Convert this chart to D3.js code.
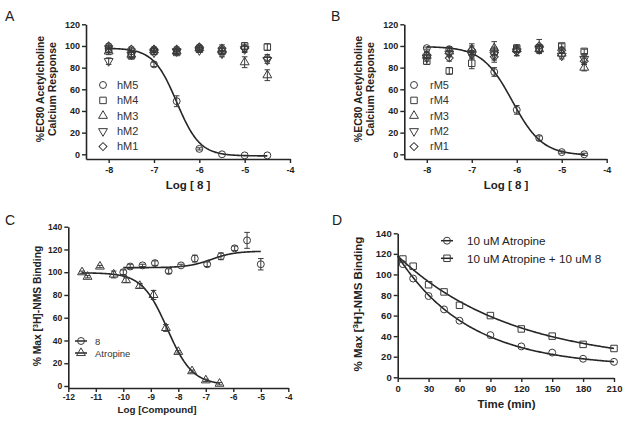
<!DOCTYPE html>
<html><head><meta charset="utf-8">
<script src="https://cdn.jsdelivr.net/npm/d3@7"></script>
<style>body{margin:0;background:#fff}svg{display:block}</style>
</head><body>
<svg id="chart" width="629" height="421"></svg>
<script>
// ---------- DATA ----------
// Panel A (human receptors)
const logA = [-8, -7.5, -7, -6.5, -6, -5.5, -5, -4.5];
const hM5 = [98, 95, 83, 49, 5, 0, -1, -1];
const hM5Err = [1, 1, 2, 5, 1, 0, 0, 0];
const hM4 = [97, 91, 95, 94, 97, 95, 100, 99];
const hM4Err = [3, 3, 3, 2, 2, 3, 3, 3];
const hM3 = [95, 92, 96, 95, 98, 96, 85, 73];
const hM3Err = [3, 3, 2, 2, 2, 3, 5, 5];
const hM2 = [86, 92, 94, 95, 96, 93, 97, 87];
const hM2Err = [3, 2, 2, 2, 2, 3, 3, 3];
const hM1 = [100, 97, 97, 97, 99, 98, 98, 89];
const hM1Err = [2, 2, 2, 2, 2, 3, 3, 3];
const hM5Fit = [98, -1.5, -6.5, 1.7];      // top, bottom, logIC50, hill
// Panel B (rat receptors)
const logB = [-8, -7.5, -7, -6.5, -6, -5.5, -5, -4.5];
const rM5 = [98, 97, 93, 76, 41, 15, 2, 0];
const rM5Err = [1, 2, 2, 4, 4, 2, 1, 1];
const rM4 = [86, 77, 84, 95, 98, 98, 100, 95];
const rM4Err = [3, 3, 5, 4, 3, 3, 2, 2];
const rM3 = [91, 95, 97, 98, 97, 97, 93, 80];
const rM3Err = [3, 4, 5, 6, 3, 3, 3, 3];
const rM2 = [89, 93, 92, 92, 95, 97, 91, 88];
const rM2Err = [3, 3, 4, 5, 4, 4, 3, 3];
const rM1 = [92, 89, 96, 90, 95, 100, 96, 86];
const rM1Err = [3, 3, 4, 5, 4, 6, 3, 3];
const rM5Fit = [99.5, -1, -6.1, 1.3];
// Panel C (binding)
const logC8 = [-10, -9.75, -9.3, -8.85, -8.35, -7.9, -7.4, -6.95, -6.45, -5.95, -5.5, -5];
const bind8 = [100, 105, 106, 108, 101, 106, 112, 107, 114, 121, 128, 107];
const bind8Err = [2, 2, 1, 2, 2, 1, 3, 2, 3, 2, 7, 5];
const logCAtr = [-11.5, -11.3, -10.85, -10.35, -9.9, -9.4, -8.9, -8.45, -8, -7.5, -7, -6.5];
const bindAtr = [100, 96, 105, 98, 93, 88, 80, 51, 30, 13, 5, 2];
const bindAtrErr = [1, 1, 1, 3, 2, 2, 4, 3, 1, 1, 1, 1];
const bind8Fit = [118.5, 104, -6.8, 1];     // top, bottom, logEC50, hill (rising)
const bindAtrFit = [99.5, 1, -8.4, 0.95];
// Panel D (dissociation)
const timeD = [5, 15, 30, 45, 60, 90, 120, 150, 180, 210];
const dissAtr = [110, 96, 79, 66, 55, 41, 30, 24, 18, 15];
const dissAtr8 = [115, 108, 90, 83, 70, 60, 47, 40, 32, 28];
const dissAtrFit = [118, 10, 0.0145];      // y0, plateau, k
const dissAtr8Fit = [118, 12, 0.009];
// Tick labels
const ticksXAB = [-8, -7, -6, -5, -4];
const ticksYAB = [0, 20, 40, 60, 80, 100, 120];
const ticksXC = [-12, -11, -10, -9, -8, -7, -6, -5, -4];
const ticksYCD = [0, 20, 40, 60, 80, 100, 120, 140];
const ticksXD = [0, 30, 60, 90, 120, 150, 180, 210];

// ---------- HELPERS ----------
const svg = d3.select("#chart");
svg.append("rect").attr("width", 629).attr("height", 421).attr("fill", "#fff");
const INK = "#262626";
const FONT = "Liberation Sans, Arial, sans-serif";

function inhib(p) { return x => p[1] + (p[0] - p[1]) / (1 + Math.pow(10, (x - p[2]) * p[3])); }
function stim(p) { return x => p[1] + (p[0] - p[1]) / (1 + Math.pow(10, (p[2] - x) * p[3])); }
function decay(p) { return t => p[1] + (p[0] - p[1]) * Math.exp(-p[2] * t); }

const symPaths = {
  circle: d3.symbol(d3.symbolCircle, 38)(),
  square: d3.symbol(d3.symbolSquare, 42)(),
  triangle: d3.symbol(d3.symbolTriangle, 34)(),
  diamond: d3.symbol(d3.symbolSquare, 32)()
};
function drawSym(g, kind, cx, cy) {
  let path = symPaths[kind] || symPaths.triangle;
  let rot = 0;
  if (kind === "down") { path = symPaths.triangle; rot = 180; }
  if (kind === "diamond") rot = 45;
  g.append("path").attr("d", path)
    .attr("transform", `translate(${cx},${cy}) rotate(${rot})`)
    .attr("fill", "none").attr("stroke", "#3a3a3a").attr("stroke-width", 1);
}

function axes(g, x, y, xAxisY, yAxisX, xt, yt, fs, xpad) {
  const ax = g.append("g").attr("transform", `translate(0,${xAxisY})`)
    .call(d3.axisBottom(x).tickValues(xt).tickSize(4).tickSizeOuter(0).tickPadding(xpad).tickFormat(d => String(d)));
  const ay = g.append("g").attr("transform", `translate(${yAxisX},0)`)
    .call(d3.axisLeft(y).tickValues(yt).tickSize(4).tickSizeOuter(0).tickPadding(2).tickFormat(d => String(d)));
  [ax, ay].forEach(a => {
    a.select(".domain").attr("stroke", INK).attr("stroke-width", 1.6);
    a.selectAll(".tick line").attr("stroke", INK).attr("stroke-width", 1.4);
    a.selectAll(".tick text").attr("fill", "#222").attr("font-family", FONT)
      .attr("font-weight", "bold").attr("font-size", fs);
  });
}

function series(g, x, y, xs, vs, es, kind) {
  xs.forEach((xv, i) => {
    const e = es ? es[i] : 0;
    const cx = x(xv), cy = y(vs[i]);
    if (e > 0.5) {
      const y1 = y(vs[i] - e), y2 = y(vs[i] + e);
      g.append("line").attr("x1", cx).attr("x2", cx).attr("y1", y1).attr("y2", y2)
        .attr("stroke", "#3a3a3a").attr("stroke-width", 1);
      [y1, y2].forEach(yy => g.append("line").attr("x1", cx - 2.8).attr("x2", cx + 2.8)
        .attr("y1", yy).attr("y2", yy).attr("stroke", "#3a3a3a").attr("stroke-width", 1));
    }
    drawSym(g, kind, cx, cy);
  });
}

function curve(g, x, y, f, x0, x1) {
  const pts = d3.range(0, 201).map(i => x0 + (x1 - x0) * i / 200);
  g.append("path").datum(pts)
    .attr("d", d3.line().x(d => x(d)).y(d => y(f(d))))
    .attr("fill", "none").attr("stroke", INK).attr("stroke-width", 1.6);
}

function text(g, s, xx, yy, opt) {
  const t = g.append("text").attr("x", xx).attr("y", yy).text(s)
    .attr("font-family", FONT).attr("fill", opt.fill || "#222")
    .attr("font-size", opt.size).attr("font-weight", opt.weight || "normal")
    .attr("text-anchor", opt.anchor || "start");
  if (opt.rotate) t.attr("transform", `rotate(-90,${xx},${yy})`);
  return t;
}

// ---------- PANEL A ----------
{
  const g = svg.append("g");
  const x = d3.scaleLinear().domain([-8.5, -4]).range([86, 290]);
  const y = d3.scaleLinear().domain([-4.34, 120]).range([159, 24.3]);
  axes(g, x, y, 159, 86, ticksXAB, ticksYAB, 9, 4);
  curve(g, x, y, inhib(hM5Fit), -8, -4.5);
  series(g, x, y, logA, hM4, hM4Err, "square");
  series(g, x, y, logA, hM3, hM3Err, "triangle");
  series(g, x, y, logA, hM2, hM2Err, "down");
  series(g, x, y, logA, hM1, hM1Err, "diamond");
  series(g, x, y, logA, hM5, hM5Err, "circle");
  const names = ["hM5", "hM4", "hM3", "hM2", "hM1"], kinds = ["circle", "square", "triangle", "down", "diamond"];
  names.forEach((n, i) => {
    const yy = 85 + i * 15.4;
    drawSym(g, kinds[i], 103, yy);
    text(g, n, 117, yy + 3.8, { size: 11, fill: "#333" });
  });
  text(g, "A", 5, 20.5, { size: 14 });
  text(g, "%EC80 Acetylcholine", 44, 89, { size: 10.5, weight: "bold", anchor: "middle", rotate: true });
  text(g, "Calcium Response", 56, 89, { size: 10.5, weight: "bold", anchor: "middle", rotate: true });
  text(g, "Log [ 8 ]", 188, 189, { size: 11.5, weight: "bold", anchor: "middle" });
}

// ---------- PANEL B ----------
{
  const g = svg.append("g");
  const x = d3.scaleLinear().domain([-8.5, -4]).range([404.3, 606.7]);
  const y = d3.scaleLinear().domain([-4.34, 120]).range([159, 24.3]);
  axes(g, x, y, 159, 404.3, ticksXAB, ticksYAB, 9, 4);
  curve(g, x, y, inhib(rM5Fit), -8, -4.5);
  series(g, x, y, logB, rM4, rM4Err, "square");
  series(g, x, y, logB, rM3, rM3Err, "triangle");
  series(g, x, y, logB, rM2, rM2Err, "down");
  series(g, x, y, logB, rM1, rM1Err, "diamond");
  series(g, x, y, logB, rM5, rM5Err, "circle");
  const names = ["rM5", "rM4", "rM3", "rM2", "rM1"], kinds = ["circle", "square", "triangle", "down", "diamond"];
  names.forEach((n, i) => {
    const yy = 85 + i * 15.4;
    drawSym(g, kinds[i], 414, yy);
    text(g, n, 430, yy + 3.8, { size: 11, fill: "#333" });
  });
  text(g, "B", 331, 20.5, { size: 14 });
  text(g, "%EC80 Acetylcholine", 362, 89, { size: 10.5, weight: "bold", anchor: "middle", rotate: true });
  text(g, "Calcium Response", 374, 89, { size: 10.5, weight: "bold", anchor: "middle", rotate: true });
  text(g, "Log [ 8 ]", 506, 189, { size: 11.5, weight: "bold", anchor: "middle" });
}

// ---------- PANEL C ----------
{
  const g = svg.append("g");
  const x = d3.scaleLinear().domain([-12, -4]).range([68.3, 288.3]);
  const y = d3.scaleLinear().domain([-1.76, 140]).range([388, 226.7]);
  axes(g, x, y, 388, 68.3, ticksXC, ticksYCD, 8.5, 1.5);
  curve(g, x, y, stim(bind8Fit), -10, -5);
  curve(g, x, y, inhib(bindAtrFit), -11.5, -6.5);
  series(g, x, y, logC8, bind8, bind8Err, "circle");
  series(g, x, y, logCAtr, bindAtr, bindAtrErr, "triangle");
  [["8", "circle", 341], ["Atropine", "triangle", 353]].forEach(([n, k, yy]) => {
    g.append("line").attr("x1", 75).attr("x2", 87).attr("y1", yy).attr("y2", yy)
      .attr("stroke", INK).attr("stroke-width", 1.5);
    drawSym(g, k, 81, yy);
    text(g, n, 95, yy + 3.5, { size: 9.5, fill: "#333" });
  });
  text(g, "C", 5, 224.5, { size: 14 });
  const t = text(g, "", 41, 306, { size: 10.3, weight: "bold", anchor: "middle", rotate: true });
  t.append("tspan").text("% Max [");
  t.append("tspan").text("3").attr("dy", -3.5).attr("font-size", 7);
  t.append("tspan").text("H]-NMS Binding").attr("dy", 3.5);
  text(g, "Log [Compound]", 157, 413, { size: 9.8, weight: "bold", anchor: "middle" });
}

// ---------- PANEL D ----------
{
  const g = svg.append("g");
  const x = d3.scaleLinear().domain([0, 210]).range([397.7, 614]);
  const y = d3.scaleLinear().domain([-0.7, 140]).range([378, 233.3]);
  axes(g, x, y, 378, 397.7, ticksXD, ticksYCD, 9.5, 3);
  curve(g, x, y, decay(dissAtrFit), 0, 210);
  curve(g, x, y, decay(dissAtr8Fit), 0, 210);
  series(g, x, y, timeD, dissAtr, null, "circle");
  series(g, x, y, timeD, dissAtr8, null, "square");
  [["10 uM Atropine", "circle", 240.7], ["10 uM Atropine + 10 uM 8", "square", 258.3]].forEach(([n, k, yy]) => {
    g.append("line").attr("x1", 441).attr("x2", 453).attr("y1", yy).attr("y2", yy)
      .attr("stroke", INK).attr("stroke-width", 1.5);
    drawSym(g, k, 447, yy);
    text(g, n, 467, yy + 4.2, { size: 11.7, fill: "#222" });
  });
  text(g, "D", 332, 225, { size: 14 });
  const t = text(g, "", 362, 304, { size: 11.5, weight: "bold", anchor: "middle", rotate: true });
  t.append("tspan").text("% Max [");
  t.append("tspan").text("3").attr("dy", -4).attr("font-size", 8);
  t.append("tspan").text("H]-NMS Binding").attr("dy", 4);
  text(g, "Time (min)", 506.5, 408, { size: 11.5, weight: "bold", anchor: "middle" });
}
</script></body></html>
